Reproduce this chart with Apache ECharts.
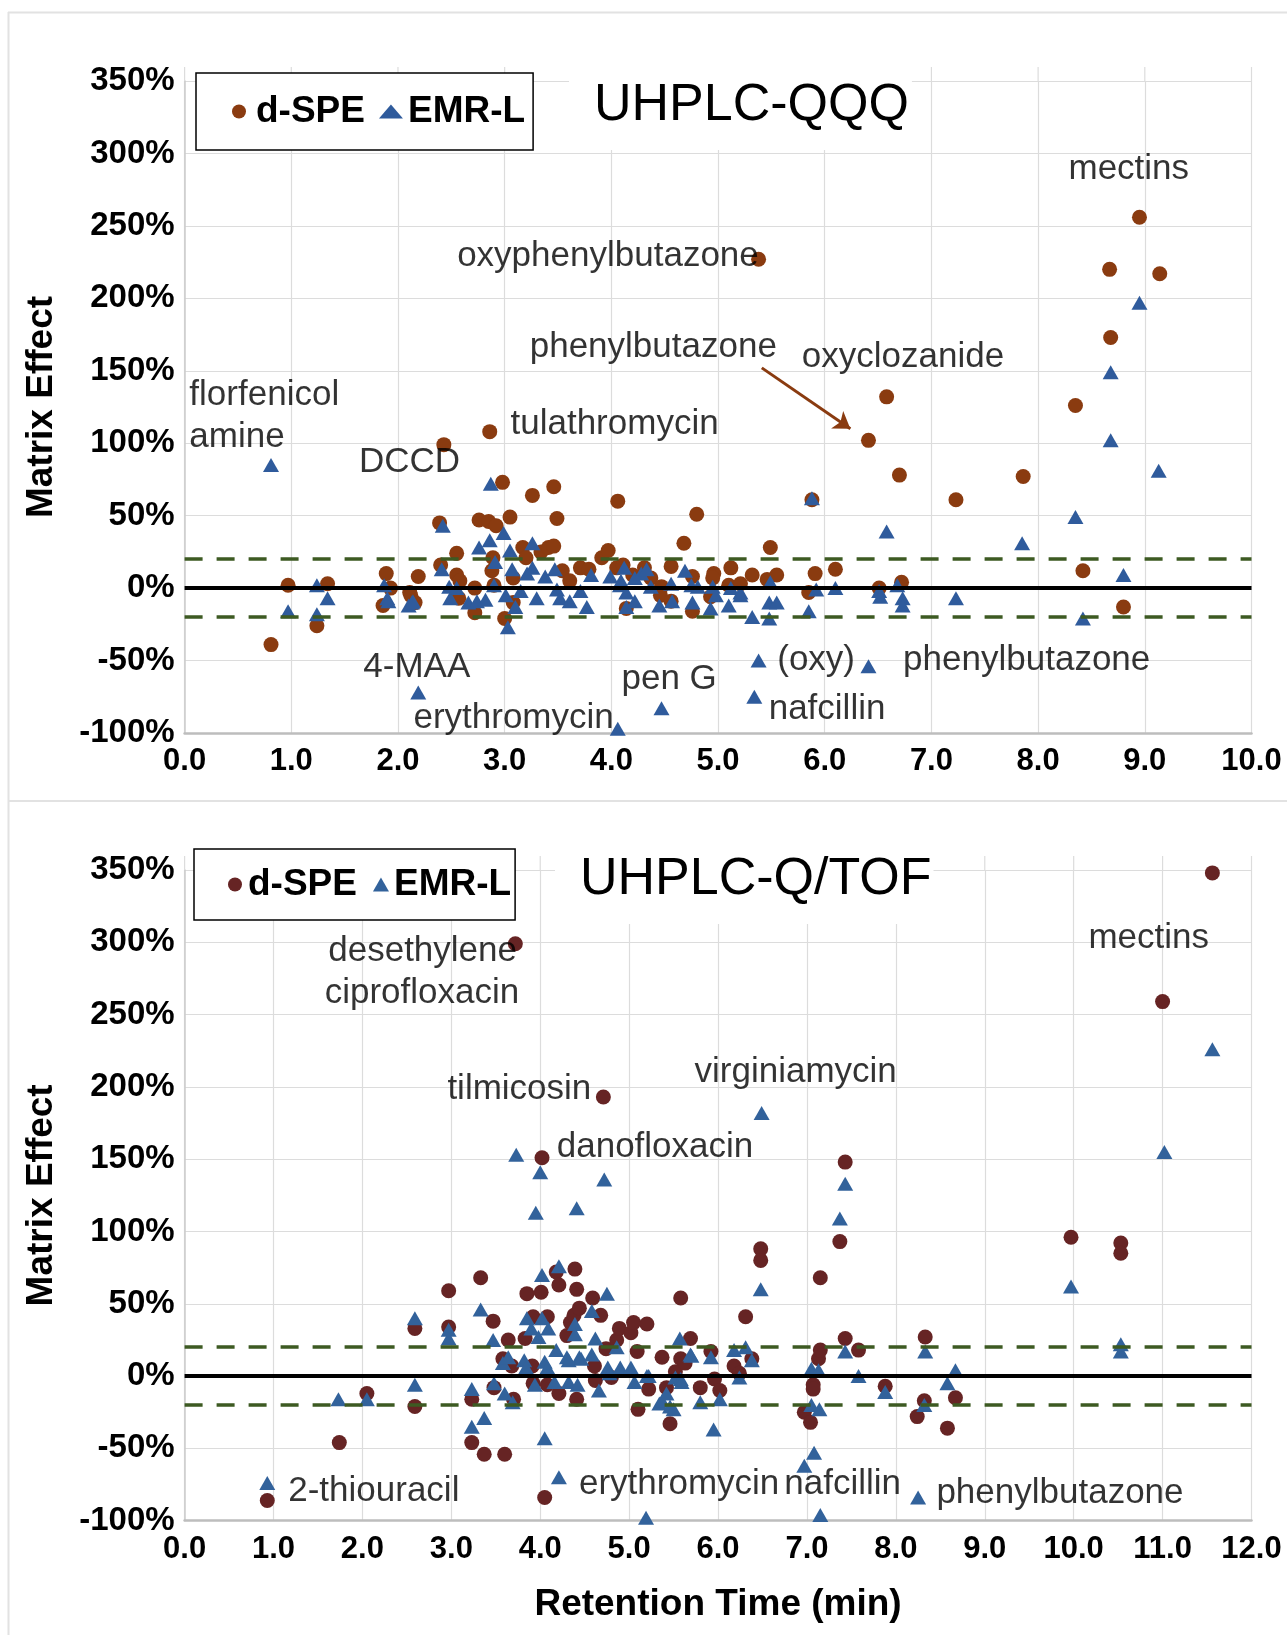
<!DOCTYPE html>
<html>
<head>
<meta charset="utf-8">
<script src="https://cdn.jsdelivr.net/npm/echarts@6/dist/echarts.min.js"></script>
<style>
html, body { margin: 0; padding: 0; background: #fff; }
#main { width: 1287px; height: 1635px; }
</style>
</head>
<body>
<div id="main"></div>
<script>
// UHPLC-QQQ (top panel) - [retention time, matrix effect %]
var qqqDspe = [
  [0.81,-39],[0.97,2],[1.24,-26],[1.34,3],
  [1.86,-12],[1.89,10],[1.93,0],[2.11,-3],[2.19,8],[2.12,-5],[2.16,-10],
  [2.39,45],[2.43,99],[2.40,16],[2.55,24],[2.55,9],[2.57,-7],[2.58,5],[2.72,0],[2.72,-17],
  [2.76,47],[2.85,46],[2.86,108],[2.92,43],[2.89,21],[2.88,12],[2.90,2],[2.98,73],[3.0,-21],[3.05,49],[3.08,-10],[3.08,7],
  [3.17,28],[3.2,21],[3.26,64],[3.34,25],[3.41,28],[3.46,70],[3.46,29],[3.49,48],[3.54,12],[3.61,5],[3.71,14],[3.79,13],[3.91,21],[3.97,26],[4.05,14],[4.06,60],
  [4.11,16],[4.14,-14],[4.2,9],[4.31,14],[4.37,7],[4.47,1],[4.46,-5],[4.56,15],[4.56,-9],[4.68,31],[4.76,8],[4.76,-16],[4.8,51],
  [4.93,-6],[4.96,10],[4.95,7],[5.1,2],[5.12,14],[5.21,3],[5.32,9],[5.46,6],[5.49,28],[5.55,9],[5.38,227],
  [5.85,-3],[5.88,61],[5.91,10],[6.1,13],[6.41,102],[6.51,0],[6.58,132],[6.7,78],[6.72,4],
  [7.23,61],[7.86,77],[8.35,126],[8.42,12],[8.67,220],[8.68,173],[8.8,-13],[8.95,256],[9.14,217]
];
var qqqEmr = [
  [0.81,85],[0.97,-16],[1.24,2],[1.24,-18],[1.34,-7],
  [1.87,2],[1.9,-7],[1.91,-9],[2.1,-12],[2.13,-10],[2.14,-9],[2.19,-72],
  [2.41,13],[2.42,43],[2.48,1],[2.55,0],[2.49,-7],[2.66,-10],[2.74,-9],[2.76,28],[2.82,-8],[2.86,33],[2.87,72],
  [2.9,2],[2.91,18],[2.99,38],[3.01,-5],[3.03,-27],[3.05,26],[3.07,13],[3.1,-13],[3.15,-2],[3.21,10],[3.26,31],
  [3.26,14],[3.3,-7],[3.38,8],[3.47,13],[3.49,-1],[3.52,-7],[3.61,-9],[3.71,-2],[3.77,-13],[3.81,9],[3.99,8],
  [4.06,-97],[4.08,2],[4.09,5],[4.12,14],[4.14,-3],[4.14,-13],[4.22,7],[4.22,-9],[4.28,10],[4.33,13],[4.37,1],
  [4.45,-12],[4.47,-83],[4.56,3],[4.57,-9],[4.69,12],[4.75,2],[4.76,-10],[4.81,1],[4.93,-14],[4.95,1],[4.98,-5],
  [5.1,-12],[5.12,0],[5.21,-3],[5.21,-5],[5.32,-20],[5.34,-75],[5.38,-50],[5.48,-21],[5.48,-10],[5.49,4],[5.55,-10],
  [5.85,-16],[5.88,62],[5.92,-1],[6.1,0],[6.41,-54],[6.51,-2],[6.52,-6],[6.58,39],[6.68,2],[6.73,-7],[6.73,-12],
  [7.23,-7],[7.85,31],[8.35,49],[8.42,-21],[8.68,149],[8.68,102],[8.8,9],[8.95,197],[9.13,81]
];
var qqqNotes = [
  [8.28,289,'mectins'],[2.55,229,'oxyphenylbutazone'],[3.23,166,'phenylbutazone'],
  [5.78,159,'oxyclozanide'],[0.04,133,'florfenicol'],[0.04,104,'amine'],
  [3.05,113,'tulathromycin'],[1.63,87,'DCCD'],[1.67,-55,'4-MAA'],[4.09,-63,'pen G'],
  [5.55,-50,'(oxy)'],[6.73,-50,'phenylbutazone'],[2.14,-90,'erythromycin'],[5.47,-84,'nafcillin']
];
var qqqArrow = [[5.41,152],[6.24,110]];

// UHPLC-Q/TOF (bottom panel)
var tofDspe = [
  [0.93,-86],[1.74,-46],[2.05,-12],[2.59,33],[2.59,-21],[2.97,59],[2.97,34],[3.23,-16],[3.23,-46],[3.33,68],
  [3.37,-54],[3.47,38],[3.48,-8],[3.58,12],[3.6,-54],[3.64,25],[3.68,7],[3.7,-16],[3.72,299],[3.83,26],
  [3.85,57],[3.91,7],[3.92,41],[3.92,-5],[4.01,58],[4.02,151],[4.05,-84],[4.08,41],[4.08,-6],[4.18,72],
  [4.21,63],[4.21,-12],[4.3,28],[4.34,37],[4.38,42],[4.39,74],[4.41,60],[4.41,-16],[4.44,47],[4.59,54],
  [4.61,7],[4.62,-3],[4.68,42],[4.71,193],[4.74,19],[4.8,-1],[4.86,25],[4.89,33],[5.02,30],[5.05,37],
  [5.09,17],[5.1,-23],[5.2,36],[5.22,-9],[5.37,13],[5.42,-8],[5.46,-33],[5.52,3],[5.58,54],[5.58,12],
  [5.63,9],[5.69,26],[5.8,-8],[5.92,17],[5.96,-2],[6.02,-10],[6.18,7],[6.24,2],[6.31,41],[6.38,12],
  [6.48,88],[6.48,80],[6.97,-25],[7.04,-32],[7.07,-6],[7.07,-9],[7.13,12],[7.15,18],[7.15,68],[7.37,93],
  [7.43,148],[7.43,26],[7.58,18],[7.88,-7],[8.24,-28],[8.32,-17],[8.33,27],[8.58,-36],[8.67,-15],
  [9.97,96],[10.53,92],[10.53,85],[11.0,259],[11.56,348]
];
var tofEmr = [
  [0.93,-74],[1.73,-16],[2.05,-16],[2.59,40],[2.59,-6],[2.97,32],[2.97,26],[3.23,-9],[3.23,-35],[3.33,46],
  [3.37,-29],[3.47,25],[3.48,-5],[3.58,9],[3.6,-12],[3.64,13],[3.69,-18],[3.73,153],[3.82,11],[3.84,6],
  [3.85,40],[3.9,33],[3.94,-6],[3.95,113],[3.98,27],[4.0,141],[4.02,70],[4.02,40],[4.05,10],[4.05,-43],
  [4.08,6],[4.09,33],[4.16,-4],[4.18,18],[4.21,76],[4.21,-70],[4.3,13],[4.32,11],[4.32,-4],[4.39,36],
  [4.39,29],[4.41,116],[4.42,-6],[4.44,13],[4.46,12],[4.58,45],[4.58,15],[4.62,26],[4.66,-10],[4.72,136],
  [4.75,57],[4.76,6],[4.78,2],[4.86,20],[4.9,6],[5.02,6],[5.06,-4],[5.19,-98],[5.2,0],[5.22,0],
  [5.34,-19],[5.37,-17],[5.42,-12],[5.46,-21],[5.5,-23],[5.52,-1],[5.57,26],[5.58,-2],[5.59,-4],[5.69,15],
  [5.7,14],[5.8,-18],[5.92,13],[5.95,-37],[6.02,-16],[6.18,18],[6.24,-1],[6.31,20],[6.38,11],[6.48,60],
  [6.49,182],[6.97,-62],[7.05,5],[7.05,-20],[7.08,-53],[7.13,4],[7.14,-23],[7.15,-96],[7.37,109],[7.43,133],
  [7.43,17],[7.58,0],[7.88,-11],[8.25,-84],[8.32,-20],[8.33,17],[8.58,-5],[8.67,4],
  [9.97,62],[10.53,22],[10.53,17],[11.02,155],[11.56,226]
];
var tofNotes = [
  [1.61,294,'desethylene'],[1.57,265,'ciprofloxacin'],[10.16,303,'mectins'],[2.95,198,'tilmicosin'],
  [5.73,210,'virginiamycin'],[4.18,158,'danofloxacin'],[1.16,-80,'2-thiouracil'],
  [4.43,-75,'erythromycin'],[6.74,-75,'nafcillin'],[8.45,-81,'phenylbutazone']
];

var refLines = [0, 20, -20];
var xMax = [10, 12];
var font = "'Liberation Sans', Arial, sans-serif";
var brownTop = '#8a3b10', brownBot = '#662424', blueTop = '#2f5b9c', blueBot = '#32629b';

function yAxis(idx) {
  return {
    gridIndex: idx, type: 'value', min: -100, max: 350, interval: 50,
    name: 'Matrix Effect', nameLocation: 'middle', nameGap: 124,
    nameTextStyle: { fontSize: 37, fontWeight: 'bold', color: '#000', fontFamily: font },
    axisLine: { show: true, lineStyle: { color: '#cccccc', width: 1.5 } },
    axisTick: { show: false },
    axisLabel: { formatter: function (v) { return v + '%'; }, fontSize: 33, fontWeight: 'bold', color: '#000', margin: 10, fontFamily: font },
    splitLine: { lineStyle: { color: '#dcdcdc', width: 1.2 } }
  };
}
function xAxis(idx, withName) {
  return {
    gridIndex: idx, type: 'value', min: 0, max: xMax[idx], interval: 1,
    name: withName ? 'Retention Time (min)' : '', nameLocation: 'middle', nameGap: 66,
    nameTextStyle: { fontSize: 37, fontWeight: 'bold', color: '#000', fontFamily: font },
    axisLine: { onZero: false, lineStyle: { color: '#bdbdbd', width: 2.5 } },
    axisTick: { show: false },
    axisLabel: { formatter: function (v) { return v.toFixed(1); }, fontSize: 31, fontWeight: 'bold', color: '#000', margin: 13, fontFamily: font },
    splitLine: { show: true, lineStyle: { color: '#dcdcdc', width: 1.2 } }
  };
}
function refSeries(idx) {
  return {
    type: 'line', name: 'ref' + idx, xAxisIndex: idx, yAxisIndex: idx, data: [], z: 5,
    markLine: {
      silent: true, symbol: 'none', animation: false, label: { show: false },
      data: refLines.map(function (v) {
        return v === 0
          ? { yAxis: v, lineStyle: { color: '#000', width: 4, type: 'solid' } }
          : { yAxis: v, lineStyle: { color: '#3d5a22', width: 3.5, type: [18, 14] } };
      })
    }
  };
}
function noteSeries(idx, notes, arrow) {
  var s = {
    type: 'scatter', name: 'notes' + idx, xAxisIndex: idx, yAxisIndex: idx, z: 6, silent: true,
    symbolSize: 1, itemStyle: { color: 'rgba(0,0,0,0)' },
    labelLayout: { hideOverlap: false },
    data: notes.map(function (n) { return { value: [n[0], n[1]], name: n[2] }; }),
    label: { show: true, formatter: '{b}', position: 'right', distance: 0, fontSize: 35, color: '#000', fontFamily: font }
  };
  if (arrow) {
    s.markLine = {
      silent: true, symbol: ['none', 'arrow'], symbolSize: 16, label: { show: false },
      lineStyle: { color: brownTop, width: 3, type: 'solid' },
      data: [[{ coord: arrow[0] }, { coord: arrow[1] }]]
    };
  }
  return s;
}
function legend(left, top, pad, iw, gap, dColor, eColor) {
  return {
    left: left, top: top, padding: pad, itemWidth: iw, itemHeight: 14, itemGap: gap,
    backgroundColor: '#fff', borderColor: '#000', borderWidth: 1.5, selectedMode: false,
    textStyle: { fontSize: 37, fontWeight: 'bold', color: '#000', fontFamily: font },
    data: [
      { name: 'd-SPE', icon: 'circle', itemStyle: { color: dColor } },
      { name: 'EMR-L', icon: 'triangle', itemStyle: { color: eColor } }
    ]
  };
}
function pts(idx, name, data, sym, size, color) {
  return { type: 'scatter', name: name, xAxisIndex: idx, yAxisIndex: idx, data: data, symbol: sym, symbolSize: size,
    itemStyle: { color: color, opacity: 1 } };
}

var frame = [
  { type: 'line', shape: { x1: 8, y1: 12.5, x2: 1287, y2: 12.5 }, style: { stroke: '#e2e2e2', lineWidth: 2 } },
  { type: 'line', shape: { x1: 8.5, y1: 12, x2: 8.5, y2: 1635 }, style: { stroke: '#e2e2e2', lineWidth: 2 } },
  { type: 'line', shape: { x1: 8, y1: 801, x2: 1287, y2: 801 }, style: { stroke: '#e2e2e2', lineWidth: 2 } }
];

var chart = echarts.init(document.getElementById('main'));
chart.setOption({
  animation: false,
  backgroundColor: '#fff',
  graphic: frame,
  title: [
    { text: 'UHPLC-QQQ', left: 569, top: 62, padding: [18, 3, 18, 25], backgroundColor: '#fff',
      textStyle: { fontSize: 52, fontWeight: 'normal', color: '#000', fontFamily: font } },
    { text: 'UHPLC-Q/TOF', left: 555, top: 836, padding: [18, 2, 18, 25], backgroundColor: '#fff',
      textStyle: { fontSize: 52, fontWeight: 'normal', color: '#000', fontFamily: font } }
  ],
  legend: [
    legend(196, 73, [20, 8, 20, 36], 24, 14, brownTop, blueTop),
    legend(194, 849, [17, 4, 17, 34], 16, 16, brownBot, blueBot)
  ],
  grid: [
    { left: 184.6, right: 35.5, top: 81, height: 652 },
    { left: 184.6, right: 35.5, top: 870, height: 650.7 }
  ],
  xAxis: [xAxis(0, false), xAxis(1, true)],
  yAxis: [yAxis(0), yAxis(1)],
  series: [
    pts(0, 'd-SPE', qqqDspe, 'circle', 15, brownTop),
    pts(0, 'EMR-L', qqqEmr, 'triangle', [16, 14], blueTop),
    refSeries(0),
    noteSeries(0, qqqNotes, qqqArrow),
    pts(1, 'd-SPE', tofDspe, 'circle', 15, brownBot),
    pts(1, 'EMR-L', tofEmr, 'triangle', [16, 14], blueBot),
    refSeries(1),
    noteSeries(1, tofNotes, null)
  ]
});

// vertical gridlines poke a little above the top of each plot area
var ext = frame.slice();
[0, 1].forEach(function (g) {
  for (var t = 0; t <= xMax[g]; t++) {
    var p = chart.convertToPixel({ xAxisIndex: g, yAxisIndex: g }, [t, 350]);
    ext.push({ type: 'line', z: 1, shape: { x1: p[0], y1: p[1] - 14, x2: p[0], y2: p[1] },
      style: { stroke: '#dcdcdc', lineWidth: 1.2 } });
  }
});
chart.setOption({ graphic: ext });
</script>
</body>
</html>
